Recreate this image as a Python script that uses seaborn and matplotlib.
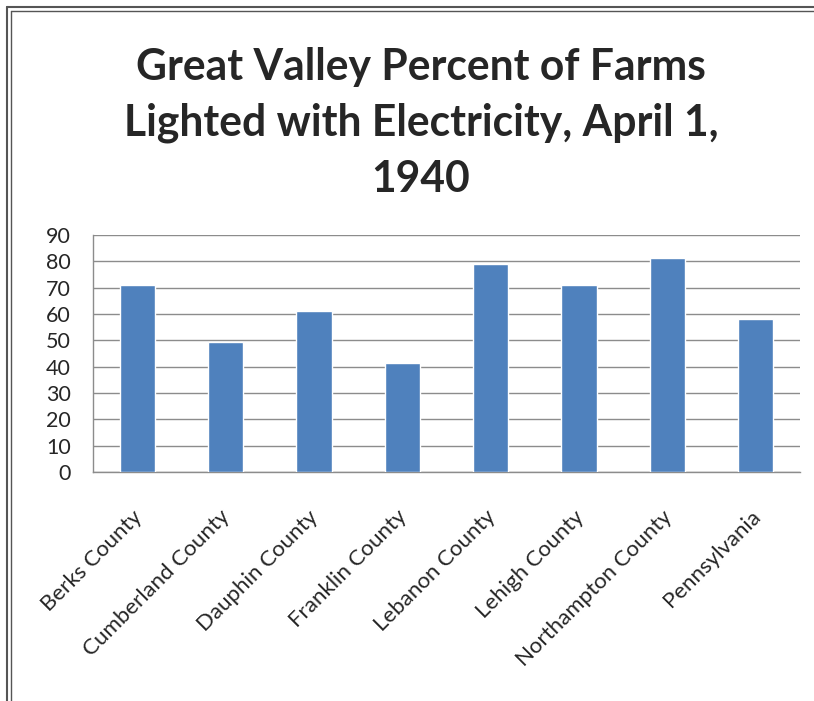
import matplotlib
matplotlib.use("Agg")
import matplotlib.pyplot as plt
import seaborn as sns
import pandas as pd
from matplotlib.lines import Line2D

# ---------------------------------------------------------------------------
# Data
# ---------------------------------------------------------------------------
regions = [
    "Berks County", "Cumberland County", "Dauphin County", "Franklin County",
    "Lebanon County", "Lehigh County", "Northampton County", "Pennsylvania",
]
pct_lighted = [70.9, 49.2, 61.0, 41.3, 79.0, 70.9, 81.3, 58.2]
y_ticks = [0, 10, 20, 30, 40, 50, 60, 70, 80, 90]

TITLE = "Great Valley Percent of Farms\nLighted with Electricity, April 1,\n1940"
BAR_COLOR = "#4F81BD"
GRID_COLOR = "#8C8C8C"

df = pd.DataFrame({"region": regions, "pct": pct_lighted})

sns.set_style("white")
plt.rcParams["font.family"] = ["Lato", "DejaVu Sans"]

fig = plt.figure(figsize=(8.14, 7.01), dpi=100)
ax = fig.add_axes([93 / 814, 1 - 472 / 701, (800 - 93) / 814, (472 - 235) / 701])

sns.barplot(data=df, x="region", y="pct", color=BAR_COLOR, saturation=1,
            width=0.4, ax=ax, zorder=3)

ax.set_ylim(0, 90)
ax.set_xlim(-0.5, len(regions) - 0.5)
ax.set_yticks(y_ticks)
ax.set_yticklabels([str(t) for t in y_ticks], fontsize=15.5)
ax.yaxis.grid(True, color=GRID_COLOR, linewidth=1.0, zorder=0)
ax.set_axisbelow(True)
ax.set_xlabel("")
ax.set_ylabel("")

# Excel-style category ticks sit between bars
ax.set_xticks([i - 0.5 for i in range(len(regions) + 1)])
ax.set_xticklabels([])
ax.tick_params(axis="x", direction="out", length=5, color=GRID_COLOR, width=1)
ax.tick_params(axis="y", direction="out", length=6, color=GRID_COLOR, width=1, pad=10)

for i, name in enumerate(regions):
    ax.annotate(name, xy=(i, 0), xycoords="data", xytext=(1, -30),
                textcoords="offset points", rotation=45, ha="right", va="center",
                rotation_mode="anchor", fontsize=16)

for side in ("top", "right"):
    ax.spines[side].set_visible(False)
for side in ("left", "bottom"):
    ax.spines[side].set_color(GRID_COLOR)
    ax.spines[side].set_linewidth(1)

fig.text(421 / 814, 1 - 123 / 701, TITLE, ha="center", va="center",
         fontsize=30.7, fontweight="bold", linespacing=1.48)

# double frame on top and left edges
for off, lw in ((7, 1.5), (11, 1.0)):
    fig.add_artist(Line2D([off / 814, off / 814], [0, 1 - off / 701],
                          transform=fig.transFigure, color="#555555", lw=lw))
    fig.add_artist(Line2D([off / 814, 1], [1 - off / 701, 1 - off / 701],
                          transform=fig.transFigure, color="#555555", lw=lw))

fig.savefig("out.png", dpi=100)
